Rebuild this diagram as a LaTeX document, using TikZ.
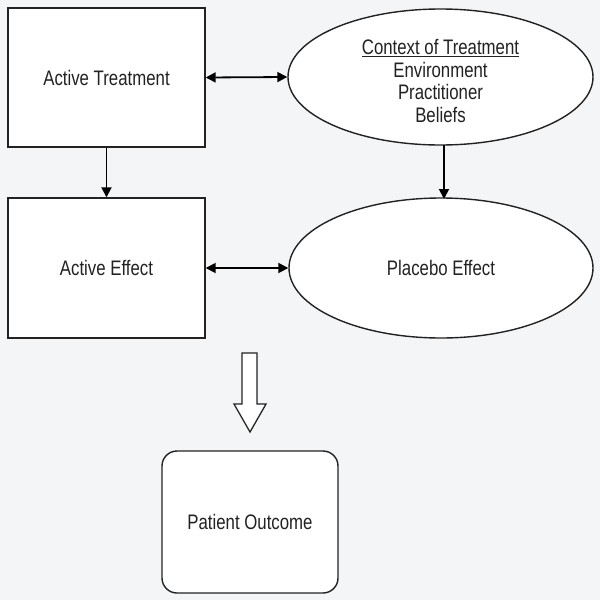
\documentclass[tikz,border=0pt]{standalone}
\usepackage{fontspec}
\setmainfont[FakeStretch=0.80]{Liberation Sans}
\usetikzlibrary{arrows.meta,shapes.geometric}
\definecolor{bg}{HTML}{F4F5F7}
\definecolor{ink}{HTML}{222222}
\begin{document}
\begin{tikzpicture}[x=1pt,y=-1pt,
  box/.style={draw=ink,line width=1.4pt,fill=white,inner sep=0pt},
  oval/.style={draw=ink,line width=1.4pt,fill=white,ellipse,inner sep=0pt},
  lbl/.style={font=\fontsize{21}{22.5}\selectfont,text=ink,align=center},
  conn/.style={line width=1.8pt,draw=black},
  tip/.style={-{Triangle[length=10pt,width=10pt]}},
  dtip/.style={{Triangle[length=10pt,width=10pt]}-{Triangle[length=10pt,width=10pt]}}]
\fill[bg] (0,0) rectangle (600,600);
\useasboundingbox (0,0) rectangle (600,600);
\node[box,minimum width=197pt,minimum height=139pt] (at) at (106.5,77.5) {};
\node[lbl] at (at) {Active Treatment};
\node[oval,minimum width=305pt,minimum height=136pt] (ctx) at (440.5,77) {};
\node[lbl] at (440.5,81) {\underline{Context of Treatment}\\Environment\\Practitioner\\Beliefs};
\node[box,minimum width=197pt,minimum height=140pt] (ae) at (106.5,268) {};
\node[lbl] at (ae) {Active Effect};
\node[oval,minimum width=304pt,minimum height=140pt] (pe) at (441,268) {};
\node[lbl] at (pe) {Placebo Effect};
\node[box,rounded corners=15pt,minimum width=176pt,minimum height=142pt] (po) at (250,522) {};
\node[lbl] at (po) {Patient Outcome};
\draw[conn,dtip] (at.east) -- (ctx.west);
\draw[conn,dtip] (ae.east) -- (pe.west);
\draw[conn,tip] (at.south) -- (ae.north);
\coordinate (c1) at (444,145);
\coordinate (c2) at (444,199);
\draw[conn,tip] (c1) -- (c2);
\draw[draw=ink,line width=1.3pt,fill=white] (242,353) -- (257,353) -- (257,404) -- (266,404) -- (250,432) -- (234,404) -- (242,404) -- cycle;
\end{tikzpicture}
\end{document}
